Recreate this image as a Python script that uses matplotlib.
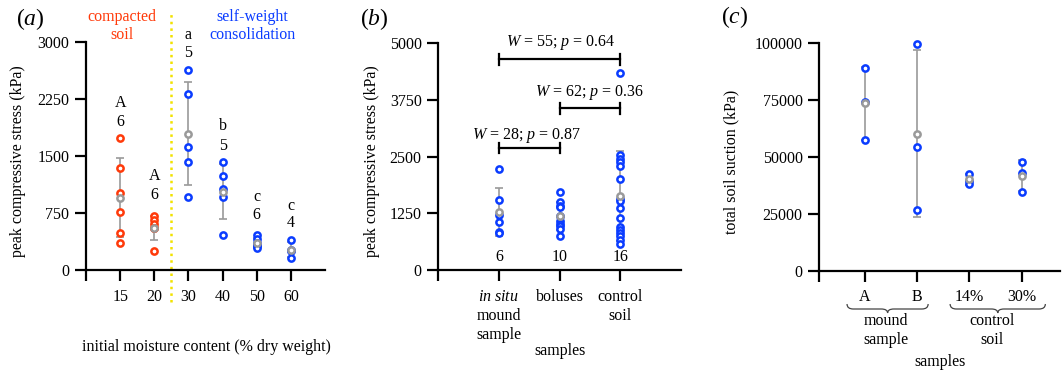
import numpy as np
import matplotlib
matplotlib.use("Agg")
import matplotlib.pyplot as plt
from matplotlib.path import Path
from matplotlib.patches import PathPatch
from matplotlib.transforms import blended_transform_factory

plt.rcParams['font.family'] = ['Liberation Serif', 'DejaVu Serif']
plt.rcParams['mathtext.fontset'] = 'custom'
plt.rcParams['mathtext.rm'] = 'Liberation Serif'
plt.rcParams['mathtext.it'] = 'Liberation Serif:italic'

# ---------------- data ----------------
# panel (a)
moisture_labels = ['15', '20', '30', '40', '50', '60']
a_vals_15 = [1735, 1340, 1010, 764, 492, 360]
a_vals_20 = [711, 659, 606, 549, 549, 255]
a_vals_30 = [2635, 2319, 1625, 1427, 966]
a_vals_40 = [1427, 1243, 1063, 966, 457]
a_vals_50 = [455, 410, 350, 330, 310, 290]
a_vals_60 = [395, 260, 245, 155]
a_letters = ['A', 'A', 'a', 'b', 'c', 'c']
a_counts = ['6', '6', '5', '5', '6', '4']
a_letter_y = [2197, 1237, 3092, 1895, 960, 842]
a_count_y = [1947, 987, 2855, 1632, 724, 618]

# panel (b)
b_labels = ['$\\mathit{in\\ situ}$\nmound\nsample', 'boluses', 'control\nsoil']
b_insitu = [2227, 1544, 1213, 1066, 845, 809]
b_boluses = [1730, 1490, 1420, 1380, 1200, 1080, 1020, 960, 900, 750]
b_control = [4350, 2530, 2450, 2380, 2300, 2010, 1560, 1520, 1360, 1140,
             950, 890, 810, 740, 660, 580]
b_counts = ['6', '10', '16']
b_tests = ['$W$ = 28; $p$ = 0.87', '$W$ = 62; $p$ = 0.36', '$W$ = 55; $p$ = 0.64']
b_test_pairs = [(1, 2), (2, 3), (1, 3)]
b_test_y = [2697, 3566, 4647]

# panel (c)
c_labels = ['A', 'B', '14%', '30%']
c_A = [89270, 74050, 57470]
c_B = [99690, 54530, 26690]
c_14 = [42700, 39500, 38300]
c_30 = [47930, 42830, 34480]

BLUE = '#0a3cff'
RED = '#ff3a0a'
GRAY = '#9a9a9a'
YELLOW = '#f2e200'
FS = 11.5

W, H = 1062, 373
fig = plt.figure(figsize=(W / 100, H / 100), dpi=100)


def px(x, y):
    return x / W, 1 - y / H


def style_ax(ax):
    for s in ['top', 'right']:
        ax.spines[s].set_visible(False)
    for s in ['left', 'bottom']:
        ax.spines[s].set_linewidth(1.6)
    ax.tick_params(axis='both', length=8, width=1.6, labelsize=FS, pad=4)


def plot_group(ax, x, vals, color):
    vals = np.asarray(vals, float)
    m = vals.mean()
    sd = vals.std(ddof=1)
    ax.errorbar([x], [m], yerr=[[sd], [sd]], fmt='none', ecolor=GRAY,
                elinewidth=1.2, capsize=3, capthick=1.2, zorder=2, clip_on=False)
    ax.plot(np.full(len(vals), x), vals, 'o', ms=4.5, mew=1.8, mec=color,
            mfc='white', zorder=3, clip_on=False)
    ax.plot([x], [m], 'o', ms=4.5, mew=1.8, mec=GRAY, mfc='white', zorder=4,
            clip_on=False)


# ---------------- panel (a) ----------------
axa = fig.add_axes([86 / W, (H - 270) / H, (325 - 86) / W, (270 - 42) / H])
style_ax(axa)
a_groups = [a_vals_15, a_vals_20, a_vals_30, a_vals_40, a_vals_50, a_vals_60]
a_colors = [RED, RED, BLUE, BLUE, BLUE, BLUE]
for i, (vals, col) in enumerate(zip(a_groups, a_colors)):
    plot_group(axa, i + 1, vals, col)
    axa.text(i + 1, a_letter_y[i], a_letters[i], ha='center', va='center', fontsize=FS)
    axa.text(i + 1, a_count_y[i], a_counts[i], ha='center', va='center', fontsize=FS)
axa.set_xlim(0, 7)
axa.set_ylim(0, 3000)
axa.set_yticks([0, 750, 1500, 2250, 3000])
axa.set_xticks(range(0, 7))
axa.set_xticklabels([''] + moisture_labels)
axa.tick_params(axis='x', pad=5.5)
axa.plot([2.5, 2.5], [-421, 3395], ls=':', color=YELLOW, lw=1.8, clip_on=False, zorder=1)

fig.text(*px(30, 19), '($\\mathit{a}$)', fontsize=17, ha='center', va='center')
fig.text(*px(122, 26), 'compacted\nsoil', color=RED, fontsize=FS, ha='center',
         va='center', linespacing=1.15)
fig.text(*px(252, 26), 'self-weight\nconsolidation', color=BLUE, fontsize=FS,
         ha='center', va='center', linespacing=1.15)
fig.text(*px(18, 161), 'peak compressive stress (kPa)', rotation=90, fontsize=FS,
         ha='center', va='center')
fig.text(*px(206, 347), 'initial moisture content (% dry weight)', fontsize=FS,
         ha='center', va='center')

# ---------------- panel (b) ----------------
axb = fig.add_axes([438.3 / W, (H - 270) / H, 242.4 / W, (270 - 43.3) / H])
style_ax(axb)
for i, vals in enumerate([b_insitu, b_boluses, b_control]):
    plot_group(axb, i + 1, vals, BLUE)
    axb.text(i + 1, 290, b_counts[i], ha='center', va='center', fontsize=FS)
axb.set_xlim(0, 4)
axb.set_ylim(0, 5000)
axb.set_yticks([0, 1250, 2500, 3750, 5000])
axb.set_xticks([0, 1, 2, 3])
axb.set_xticklabels([''] + b_labels, linespacing=1.25)
axb.tick_params(axis='x', pad=5.5)
cap = 115
for (x1, x2), y, lab in zip(b_test_pairs, b_test_y, b_tests):
    axb.plot([x1, x2], [y, y], color='black', lw=1.6, clip_on=False)
    axb.plot([x1, x1], [y - cap, y + cap], color='black', lw=1.6, clip_on=False)
    axb.plot([x2, x2], [y - cap, y + cap], color='black', lw=1.6, clip_on=False)
b_text_x = [1.46, 2.50, 2.02]
b_text_y = [2977, 3904, 5007]
for tx, ty, lab in zip(b_text_x, b_text_y, b_tests):
    axb.text(tx, ty, lab, ha='center', va='center', fontsize=FS, clip_on=False)

fig.text(*px(374, 19), '($\\mathit{b}$)', fontsize=17, ha='center', va='center')
fig.text(*px(372.5, 161), 'peak compressive stress (kPa)', rotation=90, fontsize=FS,
         ha='center', va='center')
fig.text(*px(560, 351), 'samples', fontsize=FS, ha='center', va='center')

# ---------------- panel (c) ----------------
axc = fig.add_axes([819.3 / W, (H - 270.7) / H, 240.7 / W, (270.7 - 43.3) / H])
style_ax(axc)
for i, vals in enumerate([c_A, c_B, c_14, c_30]):
    plot_group(axc, i + 1, vals, BLUE)
axc.set_xlim(0.13, 4.73)
axc.set_ylim(0, 100000)
axc.set_yticks([0, 25000, 50000, 75000, 100000])
axc.set_xticks([0.13, 1, 2, 3, 4])
axc.set_xticklabels([''] + c_labels)
axc.tick_params(axis='x', pad=5.5)

tr = blended_transform_factory(axc.transData, fig.transFigure)


def brace(x0, x1, ytop, ymid, ytip, dx=0.12):
    yt, ym, yp = [1 - v / H for v in (ytop, ymid, ytip)]
    xm = (x0 + x1) / 2
    verts = [(x0, yt), (x0, ym), (x0 + dx, ym),
             (xm - dx, ym), (xm, ym), (xm, yp),
             (xm, ym), (xm + dx, ym),
             (x1 - dx, ym), (x1, ym), (x1, yt)]
    codes = [Path.MOVETO, Path.CURVE3, Path.CURVE3,
             Path.LINETO, Path.CURVE3, Path.CURVE3,
             Path.CURVE3, Path.CURVE3,
             Path.LINETO, Path.CURVE3, Path.CURVE3]
    p = PathPatch(Path(verts, codes), transform=tr, fill=False, lw=0.9,
                  edgecolor='#444444', clip_on=False)
    fig.add_artist(p)


brace(0.66, 2.21, 304, 309, 313)
brace(2.63, 4.45, 304, 309, 313)
fig.text(*px(886, 330.5), 'mound\nsample', fontsize=FS, ha='center', va='center',
         linespacing=1.2)
fig.text(*px(992, 330.5), 'control\nsoil', fontsize=FS, ha='center', va='center',
         linespacing=1.2)
fig.text(*px(940, 362), 'samples', fontsize=FS, ha='center', va='center')
fig.text(*px(735, 17), '($\\mathit{c}$)', fontsize=17, ha='center', va='center')
fig.text(*px(731.7, 161.5), 'total soil suction (kPa)', rotation=90, fontsize=FS,
         ha='center', va='center')

fig.savefig('out.png', dpi=100)
